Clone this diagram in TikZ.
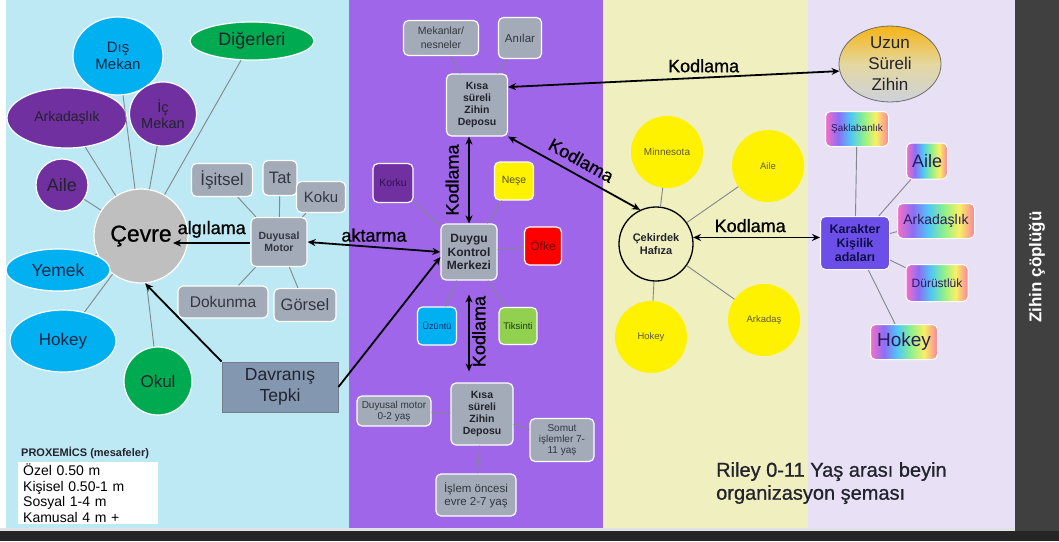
\documentclass[tikz,border=0pt]{standalone}
\usepackage{fontspec}
\setmainfont{Liberation Sans}
\newfontfamily\medfont[FakeBold=0.9]{Liberation Sans}
\usetikzlibrary{shapes.geometric,arrows.meta}
\definecolor{bgblue}{RGB}{188,233,244}
\definecolor{bgpurp}{RGB}{160,102,234}
\definecolor{bgyel}{RGB}{240,239,192}
\definecolor{bglav}{RGB}{232,224,245}
\definecolor{darkp}{RGB}{64,64,64}
\definecolor{botc}{RGB}{38,38,38}
\definecolor{linec}{RGB}{225,225,228}
\definecolor{cyanb}{RGB}{0,176,240}
\definecolor{purp}{RGB}{112,48,160}
\definecolor{greenb}{RGB}{0,170,80}
\definecolor{cevreg}{RGB}{191,191,191}
\definecolor{gboxc}{RGB}{163,171,184}
\definecolor{dtcol}{RGB}{132,151,176}
\definecolor{dtline}{RGB}{115,125,140}
\definecolor{tikg}{RGB}{146,208,80}
\definecolor{kkcol}{RGB}{108,78,232}
\definecolor{txt}{RGB}{35,35,45}
\definecolor{cytxt}{RGB}{20,40,70}
\definecolor{gtxt}{RGB}{50,55,65}
\definecolor{conc}{RGB}{130,135,140}
\definecolor{uzTop}{RGB}{245,180,20}
\definecolor{uzMid}{RGB}{228,215,160}
\definecolor{uzBot}{RGB}{205,210,220}
\definecolor{uzLine}{RGB}{110,110,110}
\definecolor{rbtxt}{RGB}{45,25,90}
\definecolor{ytxt}{RGB}{90,90,60}
\definecolor{kortxt}{RGB}{55,15,85}
\definecolor{nesetxt}{RGB}{80,80,20}
\definecolor{ofketxt}{RGB}{110,0,0}
\definecolor{uzutxt}{RGB}{20,40,110}
\definecolor{tiktxt}{RGB}{30,60,10}
\definecolor{kktxt}{RGB}{15,15,70}
\definecolor{rbA}{RGB}{245,110,200}
\definecolor{rbB}{RGB}{140,110,245}
\definecolor{rbC}{RGB}{80,200,245}
\definecolor{rbD}{RGB}{140,240,140}
\definecolor{rbE}{RGB}{250,240,100}
\definecolor{rbF}{RGB}{250,130,160}
\pgfdeclarehorizontalshading{rainbow}{100bp}{color(0bp)=(rbA); color(25bp)=(rbA); color(35bp)=(rbB); color(45bp)=(rbC); color(55bp)=(rbD); color(65bp)=(rbE); color(75bp)=(rbF); color(100bp)=(rbF)}
\newcommand{\fsz}[2]{\fontsize{#1}{#2}\selectfont}
\begin{document}
\begin{tikzpicture}[x=1pt,y=-1pt,
  ell/.style={ellipse, draw=white, line width=1.2pt, inner sep=0pt, align=center, text=txt},
  cir/.style={circle, draw=white, line width=1.2pt, inner sep=0pt, align=center, text=txt},
  gbox/.style={rectangle, rounded corners=5pt, fill=gboxc, draw=white, line width=1.2pt, inner sep=1pt, align=center, text=gtxt},
  cbox/.style={rectangle, rounded corners=5pt, draw=white, line width=1.2pt, inner sep=1pt, align=center},
  rbox/.style={rectangle, rounded corners=5pt, shading=rainbow, draw=white, line width=1pt, inner sep=1pt, align=center, text=rbtxt},
  ycir/.style={circle, fill=yellow, inner sep=0pt, minimum size=72pt, align=center, text=ytxt},
  conn/.style={draw=conc, line width=0.9pt},
  arr/.style={draw=black, line width=1.8pt, -{Stealth[length=8pt,width=7pt]}},
  darr/.style={draw=black, line width=1.8pt, {Stealth[length=8pt,width=7pt]}-{Stealth[length=8pt,width=7pt]}},
  lab/.style={text=black, font=\medfont\fsz{18}{20}}]
\useasboundingbox (0,0) rectangle (1059,541);
% panels
\fill[white] (0,0) rectangle (1059,541);
\fill[bgblue] (6,0) rectangle (349,528);
\fill[bgpurp] (349,0) rectangle (603,528);
\fill[bgyel] (603,0) rectangle (808,528);
\fill[bglav] (808,0) rectangle (1015,528);
\fill[linec] (0,528) rectangle (1015,531);
\fill[darkp] (1015,0) rectangle (1059,531);
\fill[botc] (0,531) rectangle (1059,541);

% ---------- left panel ----------
\node[ell, fill=cyanb, text=cytxt, minimum width=90, minimum height=78, font=\fsz{15}{17}] (dis) at (118,56) {Dış\\Mekan};
\node[ell, fill=greenb, minimum width=124, minimum height=38, font=\fsz{18}{20}] (dig) at (252,41) {Diğerleri};
\node[ell, fill=purp, minimum width=120, minimum height=60, font=\fsz{14}{16}] (ark) at (67,118) {Arkadaşlık};
\node[ell, fill=purp, minimum width=67, minimum height=64, font=\fsz{14.5}{16}] (ic) at (163,114) {İç\\Mekan};
\node[cir, fill=purp, minimum size=52, font=\fsz{18}{20}] (aileL) at (62,185) {Aile};
\node[cir, fill=cevreg, minimum size=94, text=black, font=\medfont\fsz{23}{25}] (cevre) at (141,236) {Çevre};
\node[ell, fill=cyanb, text=cytxt, minimum width=104, minimum height=42, font=\fsz{17.5}{19}] (yem) at (58,270) {Yemek};
\node[ell, fill=cyanb, text=cytxt, minimum width=106, minimum height=62, font=\fsz{17}{19}] (hok) at (63,341) {Hokey};
\node[cir, fill=greenb, minimum size=68, font=\fsz{17}{19}] (okul) at (158,381) {Okul};

\node[gbox, minimum width=61, minimum height=33, font=\fsz{17}{19}] (isit) at (222,180) {İşitsel};
\node[gbox, minimum width=34, minimum height=35, font=\fsz{16.5}{18}] (tat) at (280,178) {Tat};
\node[gbox, minimum width=49, minimum height=31, font=\fsz{15}{17}] (koku) at (321,197) {Koku};
\node[gbox, minimum width=56, minimum height=49, font=\bfseries\fsz{10.5}{12}] (dm) at (279,242) {Duyusal\\Motor};
\node[gbox, minimum width=90, minimum height=32, font=\fsz{15.5}{17}] (dok) at (223,302) {Dokunma};
\node[gbox, minimum width=62, minimum height=33, font=\fsz{16.5}{18}] (gor) at (305,305) {Görsel};
\node[rectangle, draw=dtline, fill=dtcol, line width=0.8pt, minimum width=116, minimum height=50, align=center, text=txt, font=\fsz{17.5}{21}] (dt) at (280,387) {Davranış\\Tepki};

\node[anchor=west, inner sep=0pt, font=\bfseries\fsz{11}{13}, text=txt] (prox) at (21,453) {PROXEMİCS (mesafeler)};
\node[anchor=north west, fill=white, inner xsep=5pt, inner ysep=1.5pt, text width=130pt, align=left, text=black, font=\fsz{14}{15.7}] (pbox) at (18,462) {Özel 0.50 m\\Kişisel 0.50-1 m\\Sosyal 1-4 m\\Kamusal 4 m +};

% ---------- purple panel ----------
\node[gbox, minimum width=75, minimum height=35, font=\fsz{10.5}{14}] (mek) at (441,38) {Mekanlar/\\nesneler};
\node[gbox, minimum width=43, minimum height=41, font=\fsz{11.5}{13}] (anil) at (520,38) {Anılar};
\node[gbox, minimum width=61, minimum height=62, font=\bfseries\fsz{10.5}{12}, text=txt] (ksz1) at (477,105) {Kısa\\süreli\\Zihin\\Deposu};
\node[cbox, fill=purp, text=kortxt, minimum width=40, minimum height=39, font=\fsz{10.5}{12}] (kor) at (393,183) {Korku};
\node[cbox, fill=yellow, text=nesetxt, minimum width=39, minimum height=38, font=\fsz{10.5}{12}] (nese) at (514,181) {Neşe};
\node[gbox, minimum width=56, minimum height=56, font=\bfseries\fsz{12}{13.5}, text=txt] (dkm) at (469,252) {Duygu\\Kontrol\\Merkezi};
\node[cbox, fill=red, text=ofketxt, minimum width=37, minimum height=38, font=\fsz{12}{13}] (ofke) at (543,246) {Öfke};
\node[cbox, fill=cyanb, text=uzutxt, minimum width=39, minimum height=38, font=\fsz{9}{10}] (uzu) at (437,326) {Üzüntü};
\node[cbox, fill=tikg, text=tiktxt, minimum width=38, minimum height=37, font=\fsz{9.5}{10}] (tik) at (518,326) {Tiksinti};
\node[gbox, minimum width=62, minimum height=62, font=\bfseries\fsz{10.5}{12}, text=txt] (ksz2) at (482,414) {Kısa\\süreli\\Zihin\\Deposu};
\node[gbox, minimum width=74, minimum height=30, font=\fsz{10}{11}] (dm02) at (394,411) {Duyusal motor\\0-2 yaş};
\node[gbox, minimum width=64, minimum height=43, font=\fsz{10}{11}] (som) at (562,440) {Somut\\işlemler 7-\\11 yaş};
\node[gbox, minimum width=80, minimum height=42, font=\fsz{11.5}{13}] (isl) at (476,495) {İşlem öncesi\\evre 2-7 yaş};

% ---------- yellow panel ----------
\node[circle, draw=black, line width=1.3pt, minimum size=74, inner sep=0pt, align=center, font=\bfseries\fsz{11}{12.5}, text=txt] (ck) at (656,244) {Çekirdek\\Hafıza};
\node[ycir, font=\fsz{10}{11}] (minY) at (667,152) {Minnesota};
\node[ycir, font=\fsz{9.5}{11}] (aileY) at (768,166) {Aile};
\node[ycir, font=\fsz{9.5}{11}] (arkY) at (764,320) {Arkadaş};
\node[ycir, font=\fsz{9.5}{11}] (hokY) at (651,337) {Hokey};

\node[anchor=north west, align=left, inner sep=0pt, text=txt, font=\medfont\fsz{20}{23}] (title) at (716,462) {Riley 0-11 Yaş arası beyin\\organizasyon şeması};

% ---------- lavender panel ----------
\node[ellipse, draw=uzLine, line width=0.8pt, top color=uzTop, bottom color=uzBot, middle color=uzMid, minimum width=102, minimum height=72, inner sep=0pt, align=center, text=txt, font=\fsz{17}{21}] (usz) at (890,64) {Uzun\\Süreli\\Zihin};
\node[rectangle, rounded corners=5pt, fill=kkcol, draw=white, line width=1pt, minimum width=69, minimum height=53, inner sep=1pt, align=center, font=\bfseries\fsz{12.5}{14}, text=kktxt] (kk) at (855,243) {Karakter\\Kişilik\\adaları};
\node[rbox, minimum width=63, minimum height=35, font=\fsz{10}{11}] (sak) at (857,129) {Şaklabanlık};
\node[rbox, minimum width=41, minimum height=36, font=\fsz{18}{20}] (aileK) at (927,161) {Aile};
\node[rbox, minimum width=77, minimum height=35, font=\fsz{14}{16}] (arkK) at (936,221) {Arkadaşlık};
\node[rbox, minimum width=62, minimum height=37, font=\fsz{12}{13}] (durK) at (937,283) {Dürüstlük};
\node[rbox, minimum width=67, minimum height=35, font=\fsz{19}{21}] (hokK) at (904,342) {Hokey};

% ---------- dark side ----------
\node[rotate=90, text=white, font=\bfseries\fsz{17}{19}] (zc) at (1037,267) {Zihin çöplüğü};

% ---------- connectors ----------
\foreach \n in {dis,dig,ark,ic,aileL,yem,hok,okul} \draw[conn] (cevre) -- (\n);
\foreach \n in {isit,tat,koku,dok,gor} \draw[conn] (dm) -- (\n);
\foreach \n in {mek,anil} \draw[conn] (ksz1) -- (\n);
\foreach \n in {kor,nese,ofke,uzu,tik} \draw[conn] (dkm) -- (\n);
\foreach \n in {dm02,som,isl} \draw[conn] (ksz2) -- (\n);
\foreach \n in {minY,aileY,arkY,hokY} \draw[conn] (ck) -- (\n);
\foreach \n in {sak,aileK,arkK,durK,hokK} \draw[conn] (kk) -- (\n);

% ---------- arrows ----------
\coordinate (cvTip) at (173,243);
\draw[arr] (dm.west |- cvTip) -- node[above=1pt, lab] {algılama} (cvTip);
\draw[darr] (dm.east) -- node[above=1pt, lab] {aktarma} (dkm.west);
\draw[arr] (dt.north west) -- (cevre.-85);
\draw[arr] (dt.east) -- (dkm.-170);
\draw[darr] (dkm.north) -- node[sloped, above=6pt, lab] {Kodlama} (dkm.north |- ksz1.south);
\draw[darr, shorten <=11pt, shorten >=14pt] (dkm.south |- ksz2.north) -- node[sloped, below=-1pt, lab] {Kodlama} (dkm.south);
\draw[darr] (ksz1.south east) -- node[sloped, above=4pt, lab] {Kodlama} (ck.115);
\draw[darr] (ksz1.30) -- node[above=1pt, pos=0.59, lab] {Kodlama} (usz.188);
\draw[darr] (ck.10) -- node[above=1pt, pos=0.45, lab] {Kodlama} (ck.10 -| kk.west);
\end{tikzpicture}
\end{document}
